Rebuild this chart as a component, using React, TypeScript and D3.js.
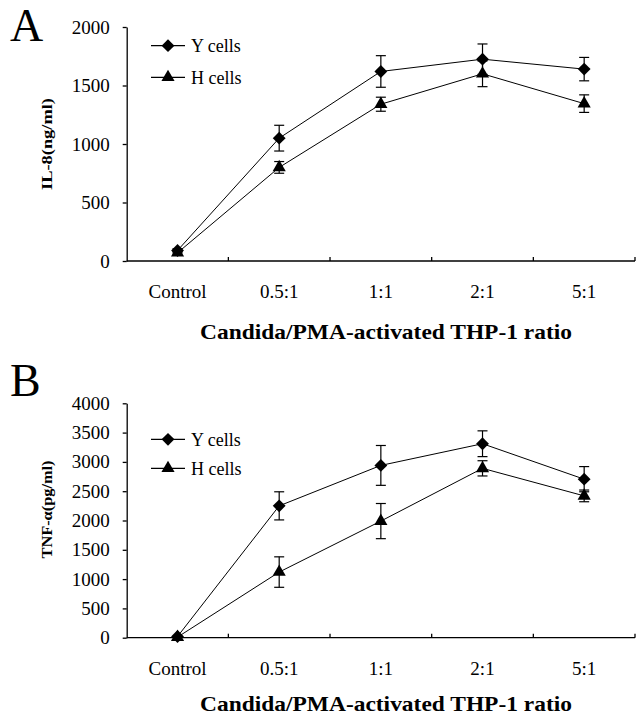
import { useRef, useEffect } from 'react'
import * as d3 from 'd3'

const CATEGORIES = ['Control', '0.5:1', '1:1', '2:1', '5:1']
const SERIES_NAMES = ['Y cells', 'H cells']

// Panel A: IL-8 (ng/ml)
const IL8_Y = [90, 1050, 1620, 1725, 1640]
const IL8_Y_ERR = [15, 110, 135, 130, 100]
const IL8_H = [70, 800, 1340, 1600, 1345]
const IL8_H_ERR = [10, 50, 60, 110, 75]
const IL8_TICKS = [0, 500, 1000, 1500, 2000]

// Panel B: TNF-alpha (pg/ml)
const TNF_Y = [20, 2250, 2940, 3310, 2705]
const TNF_Y_ERR = [0, 240, 340, 220, 215]
const TNF_H = [10, 1120, 1990, 2890, 2420]
const TNF_H_ERR = [0, 260, 300, 130, 100]
const TNF_TICKS = [0, 500, 1000, 1500, 2000, 2500, 3000, 3500, 4000]

const FONT = "'Liberation Serif','Times New Roman',serif"
const W = 642
const H = 718

const diamond = (d3 as any).symbolDiamond2 || d3.symbolDiamond

function drawPanel(svg, opts) {
  const { letter, top, bottom, max, ticks, yLabel, yLabelLen, series, legendY, legendGap, letterY, titleDy } = opts
  const left = 126.7
  const right = 635
  const g = svg.append('g')

  const x = d3.scaleBand().domain(CATEGORIES).range([left, right])
  const y = d3.scaleLinear().domain([0, max]).range([bottom, top])
  const cx = (c) => x(c) + x.bandwidth() / 2

  // panel letter
  g.append('text')
    .attr('x', 10).attr('y', letterY)
    .attr('font-family', FONT).attr('font-size', '46px')
    .attr('fill', '#000')
    .text(letter)

  // y axis
  const yAxis = d3.axisLeft(y).tickValues(ticks).tickFormat(d3.format('d'))
    .tickSize(4).tickSizeOuter(0).tickPadding(13)
  const ya = g.append('g').attr('transform', `translate(${left},0)`).call(yAxis)
  ya.select('.domain').attr('stroke', '#000').attr('stroke-width', 1.3)
  ya.selectAll('.tick line').attr('stroke', '#000').attr('stroke-width', 1.3)
  ya.selectAll('.tick text')
    .attr('font-family', FONT).attr('font-size', '19px').attr('fill', '#000')

  // x axis line with band-boundary ticks pointing up
  g.append('line')
    .attr('x1', left).attr('x2', right)
    .attr('y1', bottom).attr('y2', bottom)
    .attr('stroke', '#000').attr('stroke-width', 1.3)
  CATEGORIES.forEach((c) => {
    const bx = x(c) + x.bandwidth()
    g.append('line')
      .attr('x1', bx).attr('x2', bx)
      .attr('y1', bottom).attr('y2', bottom - 4)
      .attr('stroke', '#000').attr('stroke-width', 1.3)
    g.append('text')
      .attr('x', cx(c)).attr('y', bottom + 37)
      .attr('text-anchor', 'middle')
      .attr('font-family', FONT).attr('font-size', '19px').attr('fill', '#000')
      .text(c)
  })

  // axis titles
  g.append('text')
    .attr('x', 386).attr('y', bottom + titleDy)
    .attr('text-anchor', 'middle')
    .attr('font-family', FONT).attr('font-size', '22px').attr('font-weight', 'bold')
    .attr('textLength', 372).attr('lengthAdjust', 'spacingAndGlyphs')
    .attr('fill', '#000')
    .text('Candida/PMA-activated THP-1 ratio')
  const yMid = (top + bottom) / 2 + opts.yLabelShift
  g.append('text')
    .attr('transform', `translate(52,${yMid}) rotate(-90)`)
    .attr('text-anchor', 'middle')
    .attr('font-family', FONT).attr('font-size', '15px').attr('font-weight', 'bold')
    .attr('textLength', yLabelLen).attr('lengthAdjust', 'spacingAndGlyphs')
    .attr('fill', '#000')
    .text(yLabel)

  // series
  series.forEach((s) => {
    const line = d3.line().x((d, i) => cx(CATEGORIES[i])).y((d) => y(d))
    g.append('path')
      .datum(s.values)
      .attr('fill', 'none').attr('stroke', '#000').attr('stroke-width', 1)
      .attr('d', line)
  })
  series.forEach((s) => {
    s.values.forEach((v, i) => {
      const e = s.errors[i]
      if (!e) return
      const px = cx(CATEGORIES[i])
      g.append('line')
        .attr('x1', px).attr('x2', px).attr('y1', y(v - e)).attr('y2', y(v + e))
        .attr('stroke', '#000').attr('stroke-width', 1.2)
      ;[v - e, v + e].forEach((t) => {
        g.append('line')
          .attr('x1', px - 5).attr('x2', px + 5).attr('y1', y(t)).attr('y2', y(t))
          .attr('stroke', '#000').attr('stroke-width', 1.2)
      })
    })
  })
  series.forEach((s) => {
    const sym = d3.symbol().type(s.shape).size(s.size)
    s.values.forEach((v, i) => {
      g.append('path')
        .attr('d', sym())
        .attr('transform', `translate(${cx(CATEGORIES[i])},${y(v)})`)
        .attr('fill', '#000')
    })
  })

  // legend
  series.forEach((s, i) => {
    const ly = legendY + i * legendGap
    g.append('line')
      .attr('x1', 151).attr('x2', 185).attr('y1', ly).attr('y2', ly)
      .attr('stroke', '#000').attr('stroke-width', 1.3)
    g.append('path')
      .attr('d', d3.symbol().type(s.shape).size(s.size)())
      .attr('transform', `translate(168,${ly})`)
      .attr('fill', '#000')
    g.append('text')
      .attr('x', 191).attr('y', ly + 6.5)
      .attr('font-family', FONT).attr('font-size', '18px').attr('fill', '#000')
      .text(s.name)
  })
}

export default function App() {
  const svgRef = useRef(null)

  useEffect(() => {
    const svgEl = svgRef.current
    if (!svgEl) return
    const svg = d3.select(svgEl)
    svg.selectAll('*').remove()
    svg.append('rect').attr('width', W).attr('height', H).attr('fill', '#fff')

    drawPanel(svg, {
      letter: 'A', letterY: 41, titleDy: 78,
      top: 27, bottom: 261, max: 2000, ticks: IL8_TICKS,
      yLabel: 'IL-8(ng/ml)', yLabelLen: 92, yLabelShift: 0,
      legendY: 45.7, legendGap: 31.6,
      series: [
        { name: SERIES_NAMES[0], values: IL8_Y, errors: IL8_Y_ERR, shape: diamond, size: 105 },
        { name: SERIES_NAMES[1], values: IL8_H, errors: IL8_H_ERR, shape: d3.symbolTriangle, size: 75 },
      ],
    })
    drawPanel(svg, {
      letter: 'B', letterY: 396, titleDy: 73,
      top: 403.3, bottom: 637.7, max: 4000, ticks: TNF_TICKS,
      yLabel: 'TNF-\u03b1(pg/ml)', yLabelLen: 98, yLabelShift: -11,
      legendY: 439.3, legendGap: 29,
      series: [
        { name: SERIES_NAMES[0], values: TNF_Y, errors: TNF_Y_ERR, shape: diamond, size: 105 },
        { name: SERIES_NAMES[1], values: TNF_H, errors: TNF_H_ERR, shape: d3.symbolTriangle, size: 75 },
      ],
    })
  }, [])

  return (
    <svg
      ref={svgRef}
      width={W}
      height={H}
      style={{ position: 'absolute', left: 0, top: 0, display: 'block' }}
    />
  )
}
